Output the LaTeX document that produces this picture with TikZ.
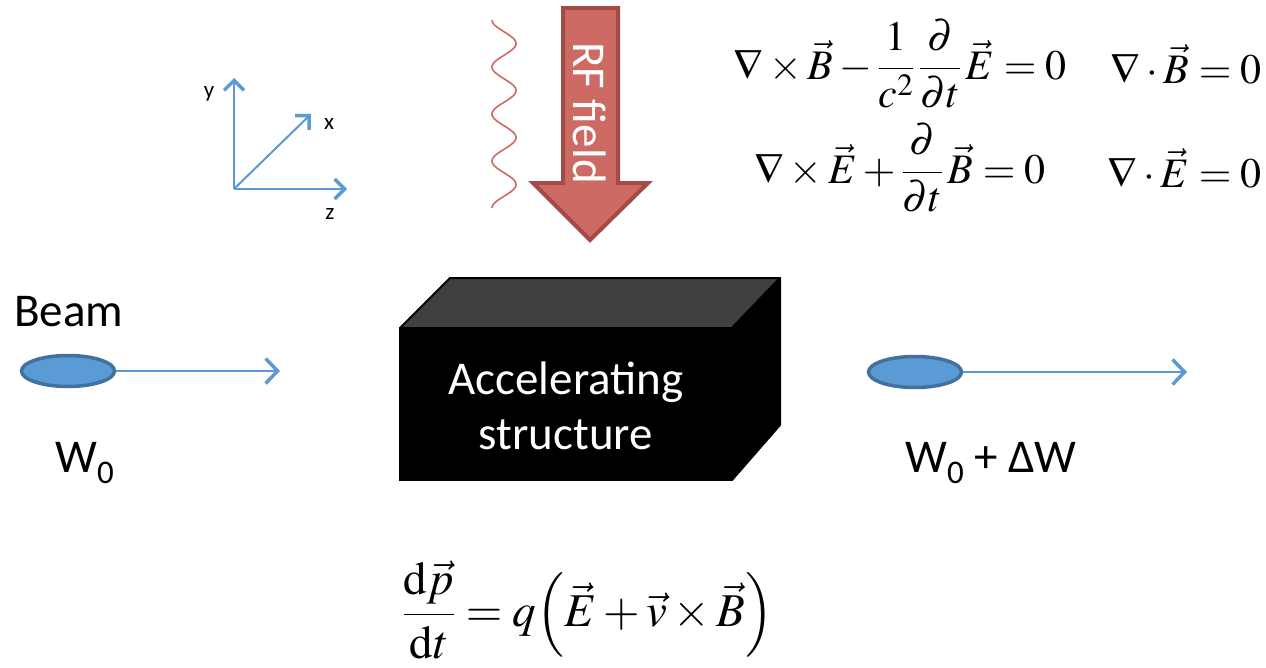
\documentclass[tikz,border=0pt]{standalone}
\usepackage{mathptmx}
\usepackage[no-math]{fontspec}
\setmainfont{Carlito}
\usetikzlibrary{arrows.meta,shapes.geometric}
\definecolor{bl}{HTML}{5B9BD5}
\definecolor{blo}{HTML}{41719C}
\definecolor{rf}{HTML}{CD6A63}
\definecolor{rfo}{HTML}{A24B47}
\definecolor{topc}{HTML}{404040}
\tikzset{
  axis/.style={draw=bl, line width=2pt, -{Straight Barb[length=10pt,width=20pt,line width=3.5pt]}},
  beamarrow/.style={draw=bl, line width=2pt, -{Straight Barb[length=12pt,width=25pt,line width=3.5pt]}},
  bunch/.style={ellipse, draw=blo, fill=bl, line width=3.5pt, minimum width=93pt, minimum height=31pt, inner sep=0pt},
  bigtxt/.style={font=\fontsize{47}{55}\selectfont, inner sep=0pt},
  smalltxt/.style={font=\fontsize{23}{27}\selectfont, inner sep=0pt},
  mathtxt/.style={font=\fontsize{42}{50}\selectfont, inner sep=0pt},
  lortxt/.style={font=\fontsize{47}{55}\selectfont, inner sep=0pt},
}
\newcommand{\subzero}{\raisebox{-0.45ex}{\fontsize{33}{33}\selectfont 0}}
\begin{document}
\begin{tikzpicture}[x=1pt,y=-1pt]
\useasboundingbox (0,0) rectangle (1266,667);
% axes
\coordinate (o) at (234,189);
\coordinate (ay) at (234,78);
\coordinate (ax) at (311,114);
\coordinate (az) at (347,189);
\draw[axis] (o) -- (ay);
\draw[axis] (o) -- (ax);
\draw[axis] (o) -- (az);
\node[smalltxt] (ly) at (209,94) {y};
\node[smalltxt] (lx) at (329,124) {x};
\node[smalltxt] (lz) at (330,214) {z};
% wave
\draw[rf, line width=1.6pt] plot[variable=\t, domain=0:188, samples=200, smooth] ({504-12*cos(\t/47*360)},{20+\t});
% RF arrow
\draw[fill=rf, draw=rfo, line width=4pt, line join=miter]
  (563,8) -- (618,8) -- (618,183) -- (648,183) -- (590,240) -- (533,183) -- (563,183) -- cycle;
\node[bigtxt, text=white, rotate=-90] (rftxt) at (590,113) {RF field};
% accelerating structure
\draw[fill=topc, draw=black, line width=2pt, line join=round] (400,328) -- (450,278) -- (780,278) -- (732,328) -- cycle;
\draw[fill=black, draw=black, line width=2pt, line join=round] (732,328) -- (780,278) -- (780,425) -- (732,480) -- cycle;
\draw[fill=black, draw=black, line width=2pt] (400,328) rectangle (732,480);
\node[bigtxt, text=white, align=center] (acc) at (566,406) {Accelerating\\[0pt]structure};
% beam in
\node[bigtxt, anchor=west] (beam) at (14,312) {Beam};
\node[bunch] (b1) at (68,371) {};
\coordinate (e1) at (280,371);
\draw[beamarrow] (b1.east) -- (e1);
\node[bigtxt, anchor=west] (w0) at (55,463) {W\subzero};
% beam out
\node[bunch] (b2) at (915,372) {};
\coordinate (e2) at (1187,372);
\draw[beamarrow] (b2.east) -- (e2);
\node[bigtxt, anchor=west] (w1) at (905,463) {W\subzero{} + ΔW};
% Maxwell
\node[mathtxt] (m1) at (900,64) {$\displaystyle\nabla\times\vec{B}-\frac{1}{c^{2}}\,\frac{\partial}{\partial t}\,\vec{E}=0$};
\node[mathtxt, anchor=east] (m2) at (1262,64) {$\displaystyle\nabla\cdot\vec{B}=0$};
\node[mathtxt] (m3) at (900,168) {$\displaystyle\nabla\times\vec{E}+\frac{\partial}{\partial t}\,\vec{B}=0$};
\node[mathtxt, anchor=east] (m4) at (1262,168) {$\displaystyle\nabla\cdot\vec{E}=0$};
% Lorentz
\node[lortxt] (lor) at (588,610) {$\displaystyle\frac{\mathrm{d}\vec{p}}{\mathrm{d}t}=q\mathopen{}\left(\vec{E}+\vec{v}\times\vec{B}\right)$};
\end{tikzpicture}
\end{document}
